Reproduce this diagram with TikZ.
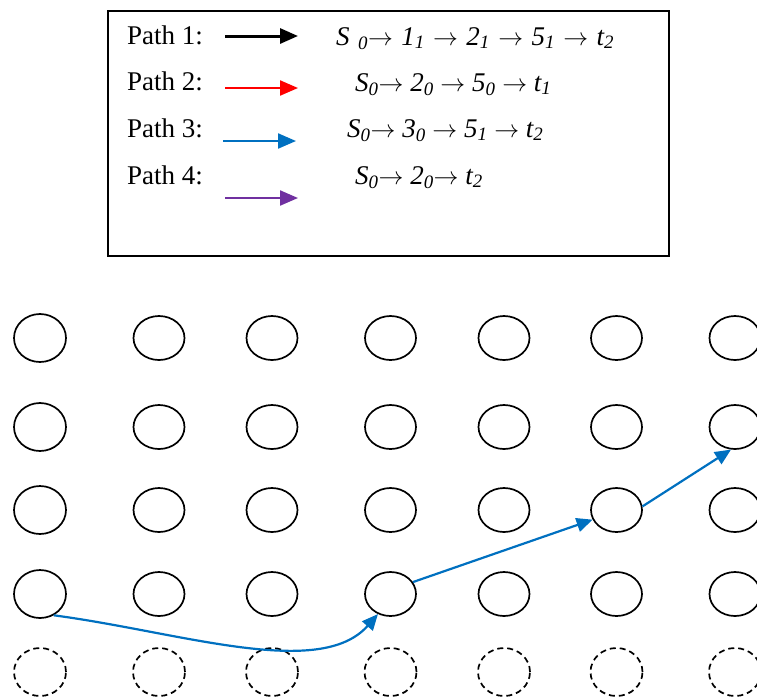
\documentclass[tikz,border=0pt]{standalone}
\usepackage{fontspec}
\setmainfont{Liberation Serif}
\usetikzlibrary{shapes.geometric,arrows.meta}
\definecolor{pblue}{RGB}{0,112,192}
\definecolor{pred}{RGB}{255,0,0}
\definecolor{ppurple}{RGB}{112,48,160}
\newcommand{\sbi}[1]{\textsubscript{\itshape #1}}
\newcommand{\ar}{$\rightarrow$}
\begin{document}
\begin{tikzpicture}[x=1pt,y=-1pt,
  cell/.style={ellipse,draw,line width=1.7pt,minimum width=51pt,minimum height=44pt,inner sep=0pt},
  bigcell/.style={cell,minimum width=52pt,minimum height=48pt},
  ghost/.style={bigcell,dash pattern=on 6pt off 4pt},
  lbl/.style={anchor=base west,inner sep=0pt,font=\fontsize{27}{30}\selectfont},
  seq/.style={anchor=base west,inner sep=0pt,font=\fontsize{27}{30}\selectfont\itshape},
  keyarrow/.style={line width=2.2pt,-{Triangle[length=18pt,width=15pt]}},
  bluearrow/.style={draw=pblue,line width=2.2pt,-{Triangle[length=16pt,width=14pt]}},
]
\useasboundingbox (0,0) rectangle (757,697);
\clip (0,0) rectangle (757,697);

% legend
\node[draw,line width=1.7pt,minimum width=561pt,minimum height=245pt,inner sep=0pt,anchor=north west] (legend) at (107,10) {};
\node[lbl] (p1) at (127,44) {Path 1:};
\node[lbl] (p2) at (127,90) {Path 2:};
\node[lbl] (p3) at (127,137) {Path 3:};
\node[lbl] (p4) at (127,184) {Path 4:};
\coordinate (k1s) at (225,36);  \coordinate (k1e) at (298,36);
\coordinate (k2s) at (225,88);  \coordinate (k2e) at (298,88);
\coordinate (k3s) at (223,141); \coordinate (k3e) at (296,141);
\coordinate (k4s) at (225,198); \coordinate (k4e) at (298,198);
\draw[keyarrow,line width=3pt,black] (k1s) -- (k1e);
\draw[keyarrow,pred] (k2s) -- (k2e);
\draw[keyarrow,pblue] (k3s) -- (k3e);
\draw[keyarrow,ppurple] (k4s) -- (k4e);
\node[seq] (s1) at (336,45) {\spaceskip=8.4pt S \sbi{0}\ar{} 1\sbi{1} \ar{} 2\sbi{1} \ar{} 5\sbi{1} \ar{} t\sbi{2}};
\node[seq] (s2) at (355,91) {S\sbi{0}\ar{} 2\sbi{0} \ar{} 5\sbi{0} \ar{} t\sbi{1}};
\node[seq] (s3) at (347,137) {S\sbi{0}\ar{} 3\sbi{0} \ar{} 5\sbi{1} \ar{} t\sbi{2}};
\node[seq] (s4) at (355,184) {S\sbi{0}\ar{} 2\sbi{0}\ar{} t\sbi{2}};

% grid of nodes
\foreach \r/\y in {1/338,2/427,3/510,4/594} {
  \node[bigcell] (c1r\r) at (40,\y) {};
  \foreach \c/\x in {2/159,3/272,4/390.5,5/504,6/616.5,7/735} {
    \node[cell] (c\c r\r) at (\x,\y) {};
  }
}
\foreach \c/\x in {1/40,2/159,3/272,4/390.5,5/504,6/616.5,7/735} {
  \node[ghost] (c\c r5) at (\x,672) {};
}

% path 3
\draw[bluearrow] (c1r4.-57) .. controls (180,632) and (320,680) .. (c4r4.-122);
\draw[bluearrow] (c4r4.28) -- (c6r3.-158);
\draw[bluearrow] (c6r3.8) -- (c7r2.-100);
\end{tikzpicture}
\end{document}
